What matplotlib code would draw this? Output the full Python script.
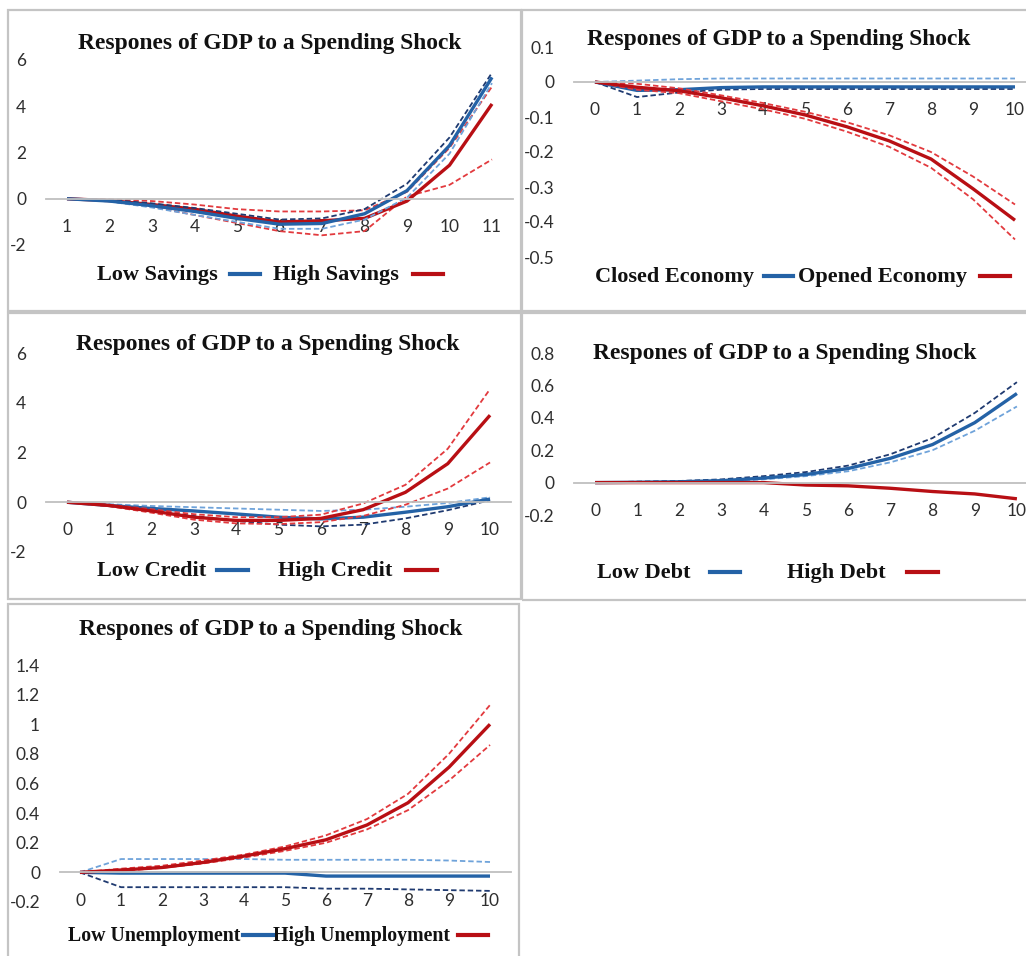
"""Impulse responses of GDP to a spending shock, five regime splits."""

from __future__ import annotations

import matplotlib

matplotlib.use("Agg")
import matplotlib.pyplot as plt
from matplotlib.lines import Line2D
from matplotlib.patches import Rectangle

W, H = 1026, 956

BLUE = "#2462A6"
NAVY = "#1F3A70"
LIGHT_BLUE = "#6FA3DA"
RED = "#B80F14"
LIGHT_RED = "#E23A3E"
ZERO = "#BFBFBF"
FRAME = "#C4C4C4"
TITLE = "Respones of GDP to a Spending Shock"
SERIF = ["Liberation Serif", "DejaVu Serif"]
TICK_FONT = ["Lato", "DejaVu Sans"]

# --- savings -------------------------------------------------------------
SAV_X = [1, 2, 3, 4, 5, 6, 7, 8, 9, 10, 11]
SAV_LOW = [0, -0.1, -0.3, -0.55, -0.85, -1.1, -1.07, -0.65, 0.35, 2.3, 5.25]
SAV_LOW_UP = [0, -0.05, -0.2, -0.4, -0.65, -0.9, -0.85, -0.45, 0.65, 2.65, 5.45]
SAV_LOW_DN = [0, -0.12, -0.38, -0.7, -1.0, -1.3, -1.3, -0.9, 0.05, 1.95, 5.0]
SAV_HIGH = [0, -0.08, -0.25, -0.45, -0.75, -1.0, -0.95, -0.85, -0.1, 1.45, 4.1]
SAV_HIGH_UP = [0, -0.03, -0.1, -0.25, -0.45, -0.55, -0.55, -0.5, 0.3, 2.2, 4.85]
SAV_HIGH_DN = [0, -0.1, -0.35, -0.7, -1.05, -1.4, -1.58, -1.4, 0.1, 0.6, 1.7]
SAV_YTICKS = [-2, 0, 2, 4, 6]
SAV_LABELS = ["Low Savings", "High Savings"]

# --- openness ------------------------------------------------------------
ECO_X = [0, 1, 2, 3, 4, 5, 6, 7, 8, 9, 10]
ECO_CLOSED = [0, -0.024, -0.022, -0.016, -0.014, -0.014, -0.014, -0.014, -0.014, -0.014, -0.014]
ECO_CLOSED_UP = [0, 0.004, 0.008, 0.01, 0.01, 0.01, 0.01, 0.01, 0.01, 0.01, 0.01]
ECO_CLOSED_DN = [0, -0.043, -0.03, -0.022, -0.02, -0.02, -0.02, -0.02, -0.02, -0.02, -0.02]
ECO_OPEN = [0, -0.015, -0.025, -0.045, -0.068, -0.094, -0.128, -0.168, -0.22, -0.305, -0.395]
ECO_OPEN_UP = [0, -0.005, -0.018, -0.038, -0.06, -0.085, -0.115, -0.152, -0.2, -0.27, -0.35]
ECO_OPEN_DN = [0, -0.022, -0.032, -0.055, -0.078, -0.105, -0.142, -0.185, -0.245, -0.335, -0.45]
ECO_YTICKS = [-0.5, -0.4, -0.3, -0.2, -0.1, 0, 0.1]
ECO_LABELS = ["Closed Economy", "Opened Economy"]

# --- credit --------------------------------------------------------------
CRD_X = [0, 1, 2, 3, 4, 5, 6, 7, 8, 9, 10]
CRD_LOW = [0, -0.13, -0.25, -0.35, -0.47, -0.6, -0.67, -0.6, -0.4, -0.18, 0.13]
CRD_LOW_UP = [0, -0.08, -0.15, -0.2, -0.25, -0.3, -0.35, -0.3, -0.18, -0.03, 0.2]
CRD_LOW_DN = [0, -0.15, -0.35, -0.55, -0.75, -0.9, -0.97, -0.9, -0.65, -0.32, 0.08]
CRD_HIGH = [0, -0.13, -0.35, -0.6, -0.73, -0.73, -0.65, -0.3, 0.4, 1.55, 3.5]
CRD_HIGH_UP = [0, -0.1, -0.28, -0.48, -0.6, -0.6, -0.5, -0.05, 0.7, 2.15, 4.55]
CRD_HIGH_DN = [0, -0.16, -0.42, -0.7, -0.85, -0.88, -0.8, -0.55, -0.1, 0.55, 1.6]
CRD_YTICKS = [-2, 0, 2, 4, 6]
CRD_LABELS = ["Low Credit", "High Credit"]

# --- debt ----------------------------------------------------------------
DBT_X = [0, 1, 2, 3, 4, 5, 6, 7, 8, 9, 10]
DBT_LOW = [0, 0.002, 0.005, 0.012, 0.028, 0.05, 0.087, 0.15, 0.235, 0.37, 0.55]
DBT_LOW_UP = [0, 0.006, 0.01, 0.02, 0.04, 0.065, 0.105, 0.175, 0.275, 0.43, 0.62]
DBT_LOW_DN = [0, 0.0, 0.002, 0.008, 0.02, 0.04, 0.07, 0.125, 0.2, 0.32, 0.47]
DBT_HIGH = [0, 0, 0, 0, 0, -0.015, -0.02, -0.035, -0.055, -0.07, -0.1]
DBT_YTICKS = [-0.2, 0, 0.2, 0.4, 0.6, 0.8]
DBT_LABELS = ["Low Debt", "High Debt"]

# --- unemployment --------------------------------------------------------
UNE_X = [0, 1, 2, 3, 4, 5, 6, 7, 8, 9, 10]
UNE_LOW = [0, -0.005, -0.005, -0.005, -0.005, -0.005, -0.025, -0.025, -0.025, -0.025, -0.025]
UNE_LOW_UP = [0, 0.09, 0.09, 0.09, 0.09, 0.085, 0.085, 0.085, 0.085, 0.08, 0.07]
UNE_LOW_DN = [0, -0.1, -0.1, -0.1, -0.1, -0.1, -0.11, -0.11, -0.115, -0.12, -0.125]
UNE_HIGH = [0, 0.016, 0.033, 0.067, 0.11, 0.16, 0.22, 0.32, 0.47, 0.71, 1.0]
UNE_HIGH_UP = [0, 0.025, 0.045, 0.08, 0.12, 0.175, 0.25, 0.36, 0.53, 0.8, 1.13]
UNE_HIGH_DN = [0, 0.01, 0.03, 0.06, 0.1, 0.145, 0.2, 0.29, 0.42, 0.62, 0.86]
UNE_YTICKS = [-0.2, 0, 0.2, 0.4, 0.6, 0.8, 1, 1.2, 1.4]
UNE_LABELS = ["Low Unemployment", "High Unemployment"]


def _fx(x: float) -> float:
    return x / W


def _fy(y: float) -> float:
    return 1 - y / H


def _frame(fig, x0, y0, x1, y1):
    fig.add_artist(
        Rectangle(
            (_fx(x0), _fy(y1)),
            (x1 - x0) / W,
            (y1 - y0) / H,
            transform=fig.transFigure,
            fill=False,
            edgecolor=FRAME,
            linewidth=1.6,
        )
    )


def _axes(fig, box, x, yticks):
    x0, y0, x1, y1 = box
    ax = fig.add_axes([_fx(x0), _fy(y1), (x1 - x0) / W, (y1 - y0) / H])
    ax.set_xlim(x[0] - 0.5, x[-1] + 0.5)
    ax.set_ylim(yticks[0], yticks[-1])
    for side in ("top", "right", "left"):
        ax.spines[side].set_visible(False)
    ax.spines["bottom"].set_position(("data", 0))
    ax.spines["bottom"].set_color(ZERO)
    ax.spines["bottom"].set_linewidth(1.3)
    ax.set_xticks(x)
    ax.set_xticklabels([str(v) for v in x])
    ax.set_yticks(yticks)
    ax.set_yticklabels([f"{v:g}" for v in yticks])
    ax.tick_params(axis="x", length=0, pad=14.5, labelsize=12.5, labelcolor="#2e2e2e")
    ax.tick_params(axis="y", length=0, pad=14, labelsize=12.5, labelcolor="#2e2e2e")
    for lab in ax.get_xticklabels() + ax.get_yticklabels():
        lab.set_family(TICK_FONT)
    ax.patch.set_alpha(0)
    return ax


def _series(ax, x, main, up, dn, color, up_color, dn_color):
    if up is not None:
        ax.plot(x, up, color=up_color, lw=1.3, ls=(0, (3, 1.6)), clip_on=False)
        ax.plot(x, dn, color=dn_color, lw=1.3, ls=(0, (3, 1.6)), clip_on=False)
    ax.plot(x, main, color=color, lw=2.4, clip_on=False, solid_capstyle="butt")


def _title(fig, cx, cy):
    fig.text(_fx(cx), _fy(cy), TITLE, ha="center", va="center",
             family=SERIF, weight="bold", fontsize=16.9, color="#111111")


def _legend(fig, y, labels, text_x, line_x, size=16):
    for label, tx, (lx0, lx1), color in zip(labels, text_x, line_x, (BLUE, RED)):
        fig.text(_fx(tx), _fy(y), label, ha="left", va="center",
                 family=SERIF, weight="bold", fontsize=size, color="#111111")
        fig.add_artist(Line2D([_fx(lx0), _fx(lx1)], [_fy(y - 1), _fy(y - 1)],
                              color=color, lw=3.0, transform=fig.transFigure))


def main() -> None:
    plt.rcParams["axes.unicode_minus"] = False
    fig = plt.figure(figsize=(W / 100, H / 100), dpi=100)
    fig.patch.set_facecolor("white")

    # frames
    _frame(fig, 8, 10, 521, 311)
    _frame(fig, 522, 10, 1040, 311)
    _frame(fig, 8, 313, 521, 599)
    _frame(fig, 522, 313, 1040, 600)
    _frame(fig, 8, 604, 519, 970)

    # savings
    ax = _axes(fig, (45.75, 60, 513.25, 245), SAV_X, SAV_YTICKS)
    _series(ax, SAV_X, SAV_HIGH, SAV_HIGH_UP, SAV_HIGH_DN, RED, LIGHT_RED, LIGHT_RED)
    _series(ax, SAV_X, SAV_LOW, SAV_LOW_UP, SAV_LOW_DN, BLUE, NAVY, LIGHT_BLUE)
    _title(fig, 270, 43)
    _legend(fig, 275, SAV_LABELS, (97, 273), ((230, 260), (413, 443)))

    # openness
    ax = _axes(fig, (574, 47, 1036, 257), ECO_X, ECO_YTICKS)
    _series(ax, ECO_X, ECO_CLOSED, ECO_CLOSED_UP, ECO_CLOSED_DN, BLUE, LIGHT_BLUE, NAVY)
    _series(ax, ECO_X, ECO_OPEN, ECO_OPEN_UP, ECO_OPEN_DN, RED, LIGHT_RED, LIGHT_RED)
    _title(fig, 779, 39)
    _legend(fig, 277, ECO_LABELS, (595, 798), ((764, 793), (980, 1010)))

    # credit
    ax = _axes(fig, (45.85, 353, 511.2, 552), CRD_X, CRD_YTICKS)
    _series(ax, CRD_X, CRD_LOW, CRD_LOW_UP, CRD_LOW_DN, BLUE, LIGHT_BLUE, NAVY)
    _series(ax, CRD_X, CRD_HIGH, CRD_HIGH_UP, CRD_HIGH_DN, RED, LIGHT_RED, LIGHT_RED)
    _title(fig, 268, 345)
    _legend(fig, 571, CRD_LABELS, (97, 278), ((217, 248), (406, 437)))

    # debt
    ax = _axes(fig, (574, 353, 1038, 515), DBT_X, DBT_YTICKS)
    _series(ax, DBT_X, DBT_LOW, DBT_LOW_UP, DBT_LOW_DN, BLUE, NAVY, LIGHT_BLUE)
    _series(ax, DBT_X, DBT_HIGH, None, None, RED, None, None)
    _title(fig, 785, 353)
    _legend(fig, 573, DBT_LABELS, (597, 787), ((710, 740), (907, 938)))

    # unemployment
    ax = _axes(fig, (59.5, 665, 510.5, 902), UNE_X, UNE_YTICKS)
    _series(ax, UNE_X, UNE_LOW, UNE_LOW_UP, UNE_LOW_DN, BLUE, LIGHT_BLUE, NAVY)
    _series(ax, UNE_X, UNE_HIGH, UNE_HIGH_UP, UNE_HIGH_DN, RED, LIGHT_RED, LIGHT_RED)
    _title(fig, 271, 629)
    _legend(fig, 936, UNE_LABELS, (68, 273), ((243, 273), (458, 488)), size=14.3)

    fig.savefig("out.png", dpi=100)
    plt.close(fig)


if __name__ == "__main__":
    main()
